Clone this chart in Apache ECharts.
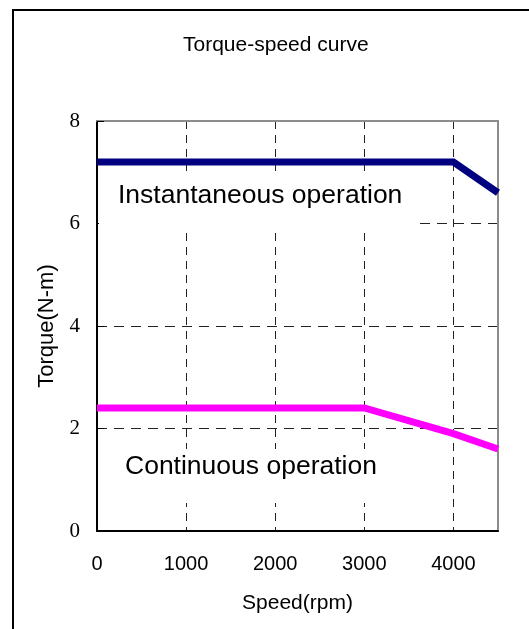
<!DOCTYPE html>
<html>
<head>
<meta charset="utf-8">
<title>Torque-speed curve</title>
<script src="https://cdn.jsdelivr.net/npm/echarts@6/dist/echarts.min.js"></script>
<style>
  html, body { margin: 0; padding: 0; background: #fff; }
  #chart { width: 529px; height: 629px; }
</style>
</head>
<body>
<div id="chart"></div>
<script>
// Instantaneous (peak) torque envelope
const instSpeed = [0, 4000, 4500];
const instTorque = [7.2, 7.2, 6.6];

// Continuous (rated) torque envelope
const contSpeed = [0, 3000, 4000, 4500];
const contTorque = [2.4, 2.4, 1.9, 1.6];

// Axis ranges and ticks
const speedMin = 0, speedMax = 4500, speedStep = 1000;
const torqueMin = 0, torqueMax = 8, torqueStep = 2;

const pairs = (xs, ys) => xs.map((x, i) => [x, ys[i]]);

const chart = echarts.init(document.getElementById('chart'), null, { renderer: 'canvas' });

const sans = '"Liberation Sans", Arial, sans-serif';
const serif = '"Liberation Serif", "Times New Roman", serif';

chart.setOption({
  animation: false,
  backgroundColor: '#fff',
  title: {
    text: 'Torque-speed curve',
    left: 178,
    top: 30,
    textStyle: { fontFamily: sans, fontSize: 21, fontWeight: 'normal', color: '#000' }
  },
  grid: { left: 97, top: 121, right: 31, bottom: 98, containLabel: false },
  xAxis: [{
    type: 'value',
    min: speedMin, max: speedMax, interval: speedStep,
    name: 'Speed(rpm)', nameLocation: 'middle', nameGap: 62,
    nameTextStyle: { fontFamily: sans, fontSize: 21, color: '#000' },
    axisLine: { show: true, lineStyle: { color: '#000', width: 2 } },
    axisTick: { show: false },
    axisLabel: {
      margin: 23, showMaxLabel: false,
      formatter: v => String(v),
      fontFamily: sans, fontSize: 20, color: '#000'
    },
    splitLine: { show: true, lineStyle: { color: '#222', width: 1, type: [8, 6] } }
  }, {
    type: 'value', position: 'top',
    min: speedMin, max: speedMax, interval: speedStep,
    axisLine: { show: true, onZero: false, lineStyle: { color: '#8c8c8c', width: 2 } },
    axisTick: { show: false }, axisLabel: { show: false }, splitLine: { show: false }
  }],
  yAxis: [{
    type: 'value',
    min: torqueMin, max: torqueMax, interval: torqueStep,
    name: 'Torque(N-m)', nameLocation: 'middle', nameGap: 39,
    nameTextStyle: { fontFamily: sans, fontSize: 22, color: '#000' },
    axisLine: { show: true, lineStyle: { color: '#000', width: 2 } },
    axisTick: { show: true, inside: true, length: 7, lineStyle: { color: '#000', width: 1 } },
    axisLabel: { margin: 17, fontFamily: serif, fontSize: 21, color: '#000' },
    splitLine: { show: true, lineStyle: { color: '#222', width: 1, type: [10, 7] } }
  }, {
    type: 'value', position: 'right',
    min: torqueMin, max: torqueMax, interval: torqueStep,
    axisLine: { show: true, onZero: false, lineStyle: { color: '#8c8c8c', width: 2 } },
    axisTick: { show: false }, axisLabel: { show: false }, splitLine: { show: false }
  }],
  graphic: [
    {
      type: 'rect', z: 1,
      shape: { x: 13, y: 10, width: 700, height: 800 },
      style: { fill: 'none', stroke: '#000', lineWidth: 2 }
    },
    {
      type: 'rect', z: 1,
      shape: { x: 99, y: 174, width: 320, height: 53 },
      style: { fill: '#fff', stroke: 'none' }
    },
    {
      type: 'text', z: 2, x: 118, y: 196,
      style: {
        text: 'Instantaneous operation',
        font: '26.5px ' + sans, fill: '#000',
        textAlign: 'left', textVerticalAlign: 'middle'
      }
    },
    {
      type: 'rect', z: 1,
      shape: { x: 99, y: 449, width: 290, height: 54 },
      style: { fill: '#fff', stroke: 'none' }
    },
    {
      type: 'text', z: 2, x: 125, y: 467,
      style: {
        text: 'Continuous operation',
        font: '26.5px ' + sans, fill: '#000',
        textAlign: 'left', textVerticalAlign: 'middle'
      }
    }
  ],
  series: [
    {
      name: 'Instantaneous operation',
      type: 'line',
      data: pairs(instSpeed, instTorque),
      symbol: 'none',
      lineStyle: { color: '#000080', width: 7, cap: 'butt', join: 'miter' },
      z: 3
    },
    {
      name: 'Continuous operation',
      type: 'line',
      data: pairs(contSpeed, contTorque),
      symbol: 'none',
      lineStyle: { color: '#ff00ff', width: 7, cap: 'butt', join: 'miter' },
      z: 3
    }
  ]
});
</script>
</body>
</html>
